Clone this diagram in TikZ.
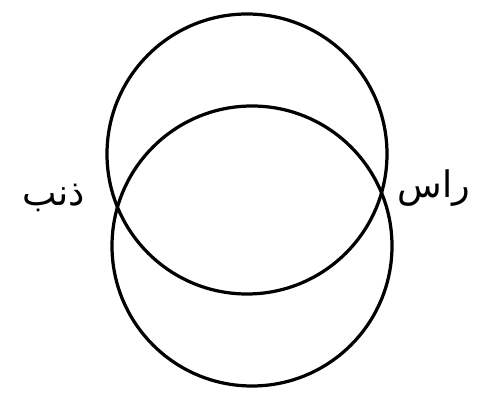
\documentclass[tikz,border=0pt]{standalone}
\usepackage{fontspec}
\newfontfamily\arabicfont[Script=Arabic]{DejaVu Sans}
\TeXXeTstate=1
\usetikzlibrary{math}

\begin{document}
\begin{tikzpicture}[scale=1]
\tikzmath{
\r=3.5;
\lw=2.3;
}
\tikzset{orbit/.style={draw=black,line width=\lw pt}}
\useasboundingbox (0,0) rectangle (12,9.9);

\coordinate (C1) at (6.175,6.05);
\coordinate (C2) at (6.3,3.75);

%the two circles
\draw[orbit] (C1) circle (\r);
\draw[orbit] (C2) circle (\r);

%nodes
\node (dhanab) at (1.35,4.95) {\fontsize{26}{30}\selectfont\arabicfont\beginR ذنب\endR};
\node (ras) at (10.85,5.2) {\fontsize{26}{30}\selectfont\arabicfont\beginR راس\endR};
\end{tikzpicture}
\end{document}
